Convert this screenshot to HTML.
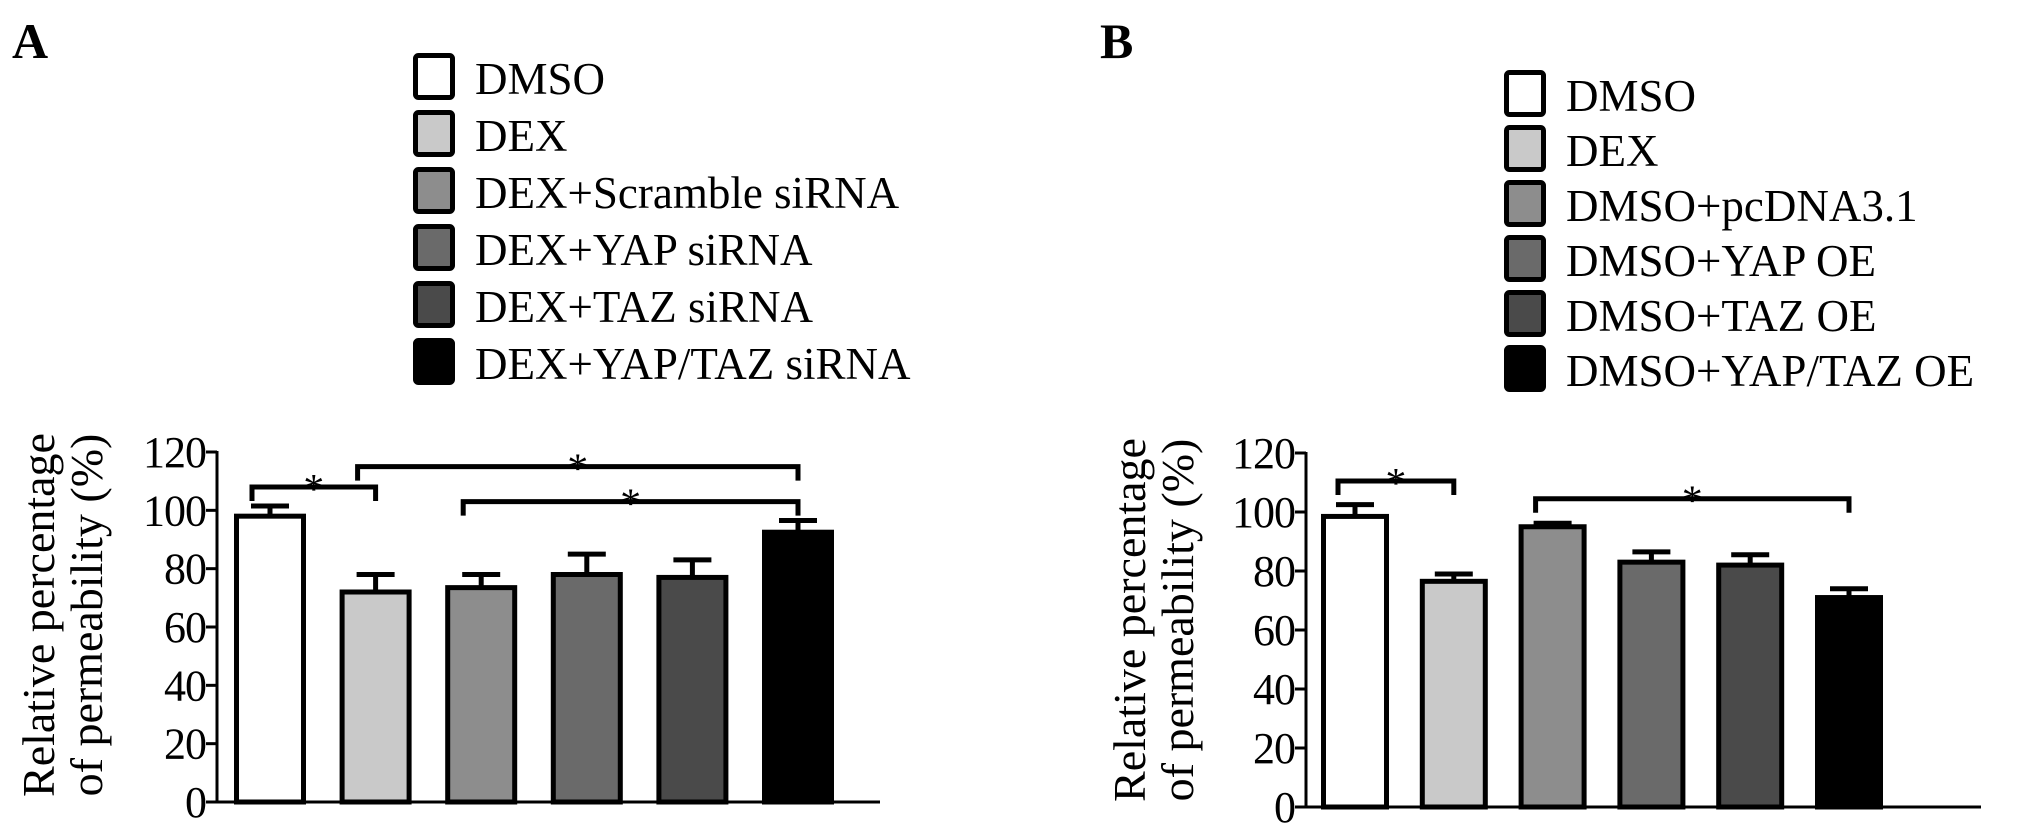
<!DOCTYPE html>
<html><head><meta charset="utf-8"><style>
html,body{margin:0;padding:0;background:#fff;}
svg, svg text, svg tspan{font-family:"Liberation Serif","DejaVu Serif","Noto Serif CJK SC",serif;}
</style></head><body>
<svg id="fig" width="2031" height="835" viewBox="0 0 2031 835" xmlns="http://www.w3.org/2000/svg"></svg>
<script>
const catsA = ["DMSO","DEX","DEX+Scramble siRNA","DEX+YAP siRNA","DEX+TAZ siRNA","DEX+YAP/TAZ siRNA"];
const valsA = [98, 72, 73.5, 78, 77, 92.5];
const errA = [3.5, 6, 4.5, 7, 6, 4];
const catsB = ["DMSO","DEX","DMSO+pcDNA3.1","DMSO+YAP OE","DMSO+TAZ OE","DMSO+YAP/TAZ OE"];
const valsB = [98.5, 76.5, 95, 83, 82, 71];
const errB = [4, 2.5, 1.2, 3.5, 3.5, 3];
const ticks = [0, 20, 40, 60, 80, 100, 120];
const fills = ["#ffffff","#c9c9c9","#8d8d8d","#6a6a6a","#4a4a4a","#000000"];
const sigA = [[0,1,108,'bracket-dmso-dex'],[1,5,115,'bracket-dex-yaptaz'],[2,5,103,'bracket-scramble-yaptaz']];
const sigB = [[0,1,110.5,'bracket-dmso-dex'],[2,5,104.5,'bracket-pcdna-yaptaz']];

const NS = "http://www.w3.org/2000/svg";
const svg = document.getElementById('fig');
function mk(tag, attrs, parent, text){
  const e = document.createElementNS(NS, tag);
  for (const k in attrs) e.setAttribute(k, attrs[k]);
  if (text !== undefined) e.textContent = text;
  (parent || svg).appendChild(e);
  return e;
}

function panel(cfg){
  const g = mk('g', {});
  
  
  const y = v => cfg.y0 - (v/120)*(cfg.y0 - cfg.y120);
  const xb = i => cfg.bx0 + i*cfg.step;
  const L = mk('text', {x:cfg.letterX, y:58, 'font-size':50, 'font-weight':'bold'}, g, cfg.letter);
  
  
  const lg = mk('g', {}, g);
  
  
  cfg.cats.forEach((c,i) => {
    const eg = mk('g', {}, lg);
    
    
    const ty = cfg.legY + i*cfg.legStep;
    mk('rect', {x:cfg.legX+2.5, y:ty+2.5, width:37, height:42, fill:fills[i], stroke:'#000', 'stroke-width':5, rx:3}, eg);
    mk('text', {x:cfg.legX+62, y:ty+41, 'font-size':45}, eg, c);
  });
  const ax = mk('g', {stroke:'#000', 'stroke-width':3}, g);
  
  
  mk('line', {x1:cfg.ax, y1:y(120)-1, x2:cfg.ax, y2:cfg.y0+1.5}, ax);
  const xa = mk('line', {x1:cfg.ax-11, y1:cfg.y0, x2:cfg.axEnd, y2:cfg.y0, stroke:'#000', 'stroke-width':3}, g);
  
  
  ticks.forEach(t => {
    mk('line', {x1:cfg.ax-11, y1:y(t), x2:cfg.ax, y2:y(t)}, ax);
    const tl = mk('text', {x:cfg.ax-11, y:y(t)+15, 'font-size':44, 'text-anchor':'end', stroke:'none', 'letter-spacing':-1}, g, String(t));
    
    
  });
  const yt = mk('text', {transform:`translate(${cfg.titleX},${cfg.titleY}) rotate(-90)`, 'font-size':46, 'text-anchor':'middle'}, g);
  
  
  mk('tspan', {x:0, dy:0}, yt, 'Relative percentage');
  mk('tspan', {x:0, dy:48}, yt, 'of permeability (%)');
  cfg.vals.forEach((v,i) => {
    const x = xb(i), top = y(v), etop = y(v + cfg.err[i]);
    const eb = mk('g', {stroke:'#000', 'stroke-width':5}, g);
    
    
    mk('line', {x1:x+cfg.bw/2, y1:top, x2:x+cfg.bw/2, y2:etop}, eb);
    mk('line', {x1:x+cfg.bw/2-19, y1:etop, x2:x+cfg.bw/2+19, y2:etop}, eb);
    const r = mk('rect', {x:x+2.5, y:top, width:cfg.bw-5, height:cfg.y0-top, fill:fills[i], stroke:'#000', 'stroke-width':5}, g);
    
    
  });
  cfg.sig.forEach(s => {
    const bg = mk('g', {}, g);
    
    
    const xl = xb(s[0]) + cfg.bw*0.25, xr = xb(s[1]) + cfg.bw*0.5;
    const yy = y(s[2]);
    mk('path', {d:`M${xl},${yy+14} L${xl},${yy} L${xr},${yy} L${xr},${yy+14}`, fill:'none', stroke:'#000', 'stroke-width':5}, bg);
    mk('text', {x:(xl+xr)/2, y:yy+16, 'font-size':42, 'text-anchor':'middle'}, bg, '*');
  });
}

panel({name:'panel-a', letter:'A', letterX:12, cats:catsA, vals:valsA, err:errA, sig:sigA,
  ax:217, y0:802, y120:452, axEnd:880, bx0:234, step:105.6, bw:72,
  legX:413, legY:53, legStep:57, titleX:54, titleY:615});
panel({name:'panel-b', letter:'B', letterX:1100, cats:catsB, vals:valsB, err:errB, sig:sigB,
  ax:1306, y0:807, y120:453, axEnd:1981, bx0:1321, step:98.8, bw:68,
  legX:1504, legY:70, legStep:55, titleX:1145, titleY:620});
</script>
</body></html>
